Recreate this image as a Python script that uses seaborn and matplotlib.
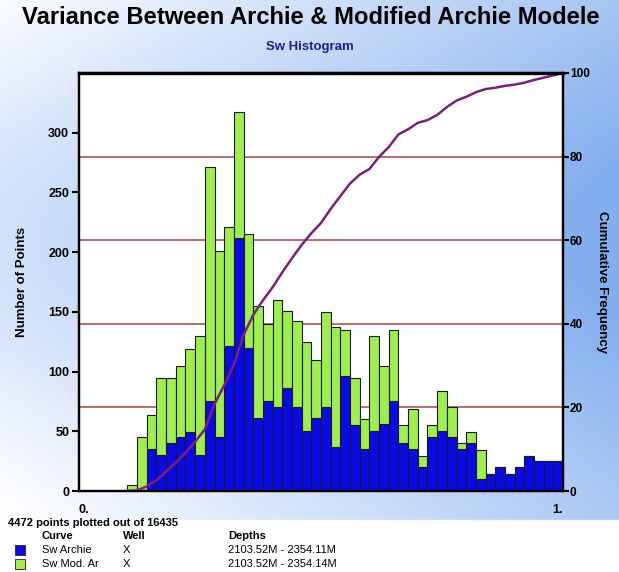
import matplotlib.pyplot as plt
import numpy as np
import pandas as pd
import seaborn as sns
from matplotlib.patches import Rectangle

# Sw bins 0.10 .. 1.00, width 0.02
sw_edges = np.round(np.arange(0.10, 1.001, 0.02), 2)

# counts per bin (stacked: Archie at bottom)
archie = [0, 0, 35, 30, 40, 45, 49, 30, 75, 45,
          121, 212, 120, 61, 75, 70, 86, 70, 50, 61,
          70, 37, 96, 55, 35, 50, 56, 75, 40, 35,
          20, 45, 50, 45, 35, 40, 10, 14, 20, 14,
          20, 29, 25, 25, 25]
mod_ar = [5, 45, 29, 65, 55, 60, 70, 100, 196, 156,
          100, 105, 95, 94, 65, 90, 65, 72, 75, 49,
          80, 100, 39, 40, 25, 80, 49, 60, 15, 34,
          9, 10, 34, 25, 5, 9, 24, 0, 0, 0,
          0, 0, 0, 0, 0]

curves = ["Sw Archie", "Sw Mod. Ar"]
wells = ["X", "X"]
depths = ["2103.52M - 2354.11M", "2103.52M - 2354.14M"]
colors = {"Sw Archie": "#0a0ae6", "Sw Mod. Ar": "#9fee4e"}

x_ticks = np.round(np.arange(0, 1.01, 0.1), 1)
x_tick_labels = ["0."] + [""] * 9 + ["1."]
count_ticks = [0, 50, 100, 150, 200, 250, 300]
freq_ticks = [0, 20, 40, 60, 80, 100]
freq_grid = [20, 40, 60, 80]

centers = (sw_edges[:-1] + sw_edges[1:]) / 2
df = pd.concat([
    pd.DataFrame({"sw": centers, "count": archie, "curve": "Sw Archie"}),
    pd.DataFrame({"sw": centers, "count": mod_ar, "curve": "Sw Mod. Ar"}),
])

total = np.array(archie) + np.array(mod_ar)
cum_freq = np.concatenate([[0], np.cumsum(total)]) / total.sum() * 100

sns.set_theme(style="white")
plt.rcParams["font.family"] = ["Liberation Sans", "DejaVu Sans"]
plt.rcParams.update({"text.color": "black", "axes.labelcolor": "black",
                     "xtick.color": "black", "ytick.color": "black"})

fig = plt.figure(figsize=(6.19, 5.72), dpi=100)

# background gradient
bg = fig.add_axes([0, 0, 1, 1], zorder=-10)
u, v = np.meshgrid(np.linspace(0, 1, 310), np.linspace(0, 1, 286))
w = 0.55 * u + 0.38 * np.exp(-((v - 0.42) / 0.38) ** 2) - 0.08
w = np.clip(w, 0, 0.8)
w[v > 0.912] = 0
blue = np.array([0.40, 0.61, 0.92])
img = (1 - w[..., None]) * np.ones(3) + w[..., None] * blue
bg.imshow(img, aspect="auto", extent=[0, 1, 0, 1], origin="upper")
bg.axis("off")

ax = fig.add_axes([0.1276, 0.1416, 0.7819, 0.7308])
ax.set_facecolor("white")
for v_ in freq_grid:
    ax.axhline(v_ / 100 * 350, color="#a8443f", lw=1.1, zorder=0.5)

sns.histplot(data=df, x="sw", weights="count", hue="curve",
             hue_order=["Sw Mod. Ar", "Sw Archie"], multiple="stack",
             bins=list(sw_edges), palette=colors, edgecolor="#1a1a1a",
             linewidth=0.8, alpha=1, legend=False, ax=ax)

ax.set_xlim(0, 1)
ax.set_ylim(0, 350)
ax.set_xticks(x_ticks)
ax.set_xticklabels(x_tick_labels, fontsize=9, fontweight="bold")
xl = ax.get_xticklabels()
xl[0].set_horizontalalignment("left")
xl[-1].set_horizontalalignment("right")
ax.set_yticks(count_ticks)
ax.set_yticklabels([str(t) for t in count_ticks], fontsize=9, fontweight="bold")
ax.tick_params(axis="both", direction="out", length=5, width=1.5, color="black", pad=2)
ax.tick_params(axis="x", pad=4)
ax.set_xlabel("")
ax.set_ylabel("Number of Points", fontsize=9.5, fontweight="bold")
ax.yaxis.set_label_coords(-0.105, 0.5)

ax2 = ax.twinx()
sns.lineplot(x=sw_edges, y=cum_freq, ax=ax2, color="#7a1f7c", lw=1.8)
ax2.set_ylim(0, 100)
ax2.set_yticks(freq_ticks)
ax2.set_yticklabels([str(t) for t in freq_ticks], fontsize=8.5, fontweight="bold")
ax2.tick_params(axis="y", direction="out", length=4, width=1.5, color="black", pad=1)
ax2.set_ylabel("Cumulative Frequency", fontsize=9.5, fontweight="bold", rotation=270,
               va="center")
ax2.yaxis.set_label_coords(1.08, 0.5)

for a in (ax, ax2):
    for s in a.spines.values():
        s.set_visible(True)
        s.set_color("black")
        s.set_linewidth(1.6)
ax2.spines["top"].set_linewidth(2.4)

fig.text(0.035, 1 - 18 / 572, "Variance Between Archie & Modified Archie Modele",
         fontsize=17.1, fontweight="bold", va="center", ha="left")
fig.text(0.5, 1 - 47 / 572, "Sw Histogram", fontsize=9.5, fontweight="bold",
         color="#1e1e8c", va="center", ha="center")

# legend block at the bottom
fig.text(8 / 619, 1 - 523 / 572, "4472 points plotted out of 16435",
         fontsize=8, fontweight="bold", va="center")
for x, s in [(42, "Curve"), (123, "Well"), (228, "Depths")]:
    fig.text(x / 619, 1 - 536 / 572, s, fontsize=8, fontweight="bold", va="center")
for i, (c, wl, d) in enumerate(zip(curves, wells, depths)):
    y = 550 + i * 14
    fig.patches.append(Rectangle((15 / 619, 1 - (y + 5) / 572), 10 / 619, 10 / 572,
                                 transform=fig.transFigure, facecolor=colors[c],
                                 edgecolor="#222222", lw=0.6))
    fig.text(42 / 619, 1 - y / 572, c, fontsize=8, va="center")
    fig.text(123 / 619, 1 - y / 572, wl, fontsize=8, va="center")
    fig.text(228 / 619, 1 - y / 572, d, fontsize=8, va="center")

fig.savefig("out.png", dpi=100)
